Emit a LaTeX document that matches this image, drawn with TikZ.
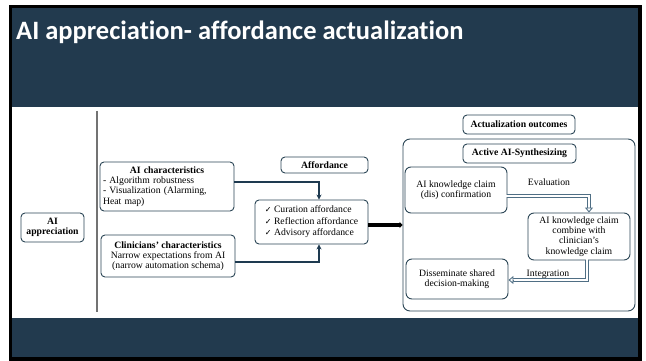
\documentclass[tikz,border=0pt]{standalone}
\usepackage{fontspec}
\setmainfont{Liberation Serif}
\newfontfamily\titlefont[Ligatures=NoCommon]{Carlito}
\newfontfamily\symfont{DejaVu Sans}
\usetikzlibrary{arrows.meta}
\definecolor{band}{HTML}{223A4E}
\definecolor{edgec}{HTML}{2C4656}
\definecolor{connc}{HTML}{1E3A50}
\definecolor{dblc}{HTML}{4F6E84}
\begin{document}
\begin{tikzpicture}[x=1pt,y=-1pt,
  box/.style={draw=edgec, line width=0.9pt, rounded corners=4pt, inner sep=2pt,
    font=\fontsize{9.7}{10.3}\selectfont, align=center, fill=white},
  lbl/.style={box, font=\fontsize{9.7}{10.3}\selectfont\bfseries},
  link/.style={draw=connc, line width=1.8pt, -{Stealth[length=5pt,width=5pt]}},
  thick link/.style={draw=black, line width=3.5pt, -{Triangle[length=3pt,width=6pt]}},
  dbl outer/.style={draw=dblc, line width=4.6pt},
  dbl inner/.style={draw=white, line width=1.8pt},
  dbl tip/.style={draw=dblc, line width=0.9pt, -{Triangle[length=5pt,width=8pt,fill=white]}},
  tag/.style={font=\fontsize{9.7}{10.3}\selectfont}
]
\useasboundingbox (0,0) rectangle (646,361);
% slide frame and bands
\fill[white] (0,0) rectangle (646,361);
\fill[black] (9,5) rectangle (642,360.5);
\fill[white] (12,8) rectangle (638,357);
\fill[band] (12,8) rectangle (638,107);
\fill[band] (12,318) rectangle (638,357);
\node[anchor=base west, text=white, inner sep=0pt,
  font=\titlefont\bfseries\fontsize{26.5}{31}\selectfont] (title) at (16,40)
  {AI appreciation- affordance actualization};
% divider
\draw[draw=gray!90!black, line width=1.3pt] (97,111) -- (97,312);
% left side
\node[lbl, minimum width=63, minimum height=29] (appr) at (52.5,227.5) {AI\\appreciation};
\node[box, minimum width=134, minimum height=49, text width=128pt, align=left] (aichar) at (167,186.5)
  {\makebox[128pt][c]{\bfseries AI characteristics}\\- Algorithm robustness\\- Visualization (Alarming,\\Heat map)};
\node[box, minimum width=134, minimum height=42] (clin) at (168,256)
  {\textbf{Clinicians' characteristics}\\Narrow expectations from AI\\(narrow automation schema)};
% affordance
\node[lbl, minimum width=87, minimum height=16] (afflbl) at (324.5,165) {Affordance};
\node[box, minimum width=113, minimum height=44, align=left, font=\fontsize{9.7}{11.5}\selectfont] (aff) at (311.5,222)
  {{\symfont\fontsize{8}{8}\selectfont ✓} Curation affordance\\{\symfont\fontsize{8}{8}\selectfont ✓} Reflection affordance\\{\symfont\fontsize{8}{8}\selectfont ✓} Advisory affordance};
% outcomes
\node[lbl, minimum width=112, minimum height=19] (actout) at (519,124.5) {Actualization outcomes};
\node[draw=edgec, line width=0.9pt, rounded corners=7pt, minimum width=232, minimum height=172] (outer) at (519,225) {};
\node[lbl, minimum width=113, minimum height=19] (active) at (519.5,153.5) {Active AI-Synthesizing};
\node[box, rounded corners=6pt, minimum width=102, minimum height=46] (conf) at (456,190) {AI knowledge claim\\(dis) confirmation};
\node[box, rounded corners=6pt, minimum width=102, minimum height=47] (comb) at (579,236.5) {AI knowledge claim\\combine with\\clinician's\\knowledge claim};
\node[box, rounded corners=6pt, minimum width=102, minimum height=40] (diss) at (457,279) {Disseminate shared\\decision-making};
% connectors
\draw[link] ([yshift=4.5pt]aichar.east) -| ([xshift=7.5pt]aff.north);
\draw[link] ([yshift=-6pt]clin.east) -| ([xshift=7.5pt]aff.south);
\draw[thick link] ([yshift=-3pt]aff.east) -- ([yshift=-3pt]aff.east -| outer.west);
% evaluation
\coordinate (evA) at ([yshift=-6pt]conf.east);
\coordinate (evB) at ([xshift=10pt]comb.north);
\draw[dbl outer, shorten >=4.5pt] (evA) -| (evB);
\draw[dbl inner, shorten >=4pt] ([xshift=-1pt]evA) -| (evB);
\draw[dbl tip] ([yshift=5pt]evB) -- (evB);
\node[tag] (evl) at (549,182) {Evaluation};
% integration
\coordinate (inA) at ([xshift=8pt]comb.south);
\coordinate (inB) at ([yshift=-1pt]diss.east);
\draw[dbl outer, shorten >=4.5pt] (inA) |- (inB);
\draw[dbl inner, shorten >=4pt] ([yshift=1pt]inA) |- (inB);
\draw[dbl tip] ([xshift=5pt]inB) -- (inB);
\node[tag] (integ) at (548,274) {Integration};
\end{tikzpicture}
\end{document}
